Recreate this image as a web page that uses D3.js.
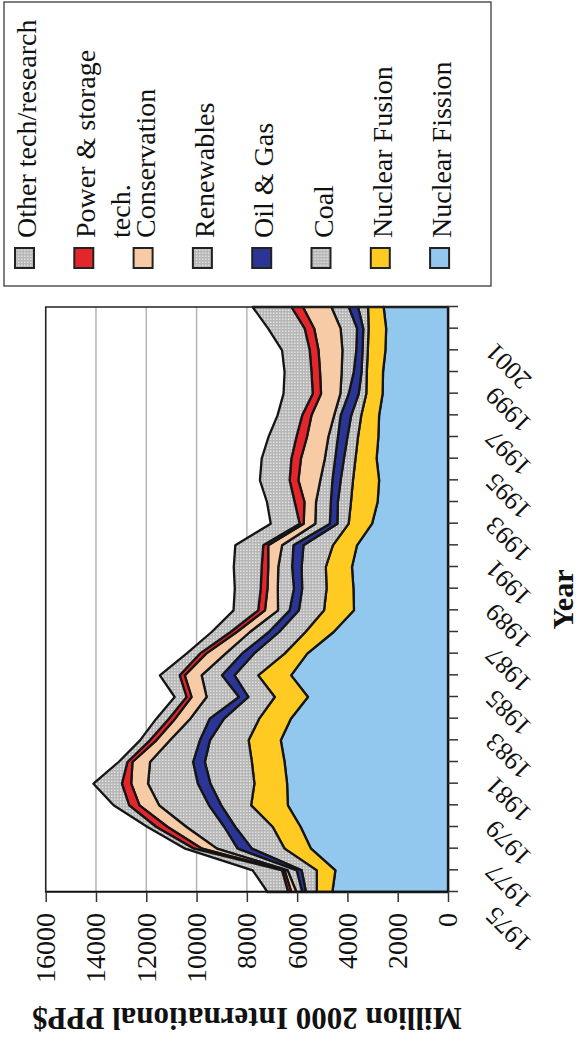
<!DOCTYPE html>
<html><head><meta charset="utf-8">
<script src="https://cdn.jsdelivr.net/npm/d3@7"></script>
<style>html,body{margin:0;padding:0;background:#fff;} svg{display:block;}</style>
</head><body>
<svg id="chart" width="582" height="1037"></svg>
<script>
// ---- data (million 2000 international PPP$) ----
const years = [1975,1976,1977,1978,1979,1980,1981,1982,1983,1984,1985,1986,1987,1988,
               1989,1990,1991,1992,1993,1994,1995,1996,1997,1998,1999,2000,2001,2002];
const yearLabels = [1975,1977,1979,1981,1983,1985,1987,1989,1991,1993,1995,1997,1999,2001];
const valueTicks = [0,2000,4000,6000,8000,10000,12000,14000,16000];

const nuclearFission = [4600,4480,5450,5860,6370,6400,6500,6650,6250,5570,6240,5600,4550,3740,3760,3820,3620,3020,2800,2740,2840,2770,2740,2600,2585,2490,2460,2560];
const nuclearFusion  = [620,740,1050,1110,1460,1300,1300,1280,1260,1320,1310,900,1120,1190,1070,1040,960,930,1060,1040,840,810,710,650,645,700,700,620];
const coal           = [430,600,1300,1490,1190,1750,1870,1540,1400,1050,940,1220,1050,1000,970,960,1170,450,520,490,460,420,400,300,210,210,210,400];
const oilGas         = [150,200,570,440,490,500,470,400,570,380,500,480,410,370,330,380,400,300,280,330,350,380,420,400,310,250,250,370];
const renewables     = [230,360,820,1500,1980,1980,1710,1190,770,1280,810,650,750,460,640,550,450,580,590,480,410,380,260,330,480,550,650,690];
const conservation   = [200,120,590,750,780,670,700,540,600,600,670,770,520,520,410,400,550,460,460,870,950,850,900,770,860,950,1050,1130];
const powerStorage   = [130,100,320,450,410,370,200,260,250,200,200,250,250,270,270,260,200,160,390,350,380,420,370,330,340,350,380,460];
const otherTech      = [820,1170,350,350,620,1130,350,390,500,470,790,530,750,980,1030,1110,1110,1150,1100,1180,1180,1110,980,1160,1070,1100,1450,1540];

const seriesNames = ["Nuclear Fission","Nuclear Fusion","Coal","Oil & Gas","Renewables","Conservation","Power & storage tech.","Other tech/research"];
const seriesData  = [nuclearFission,nuclearFusion,coal,oilGas,renewables,conservation,powerStorage,otherTech];
const seriesFill  = ["#92C7EE","#FFCB22","url(#grayDots)","#2B3595","url(#grayDots)","#F8CBA7","#E3262B","url(#grayDots)"];

const FONT = "'Liberation Serif','Times New Roman',Times,serif";

// ---- build ----
const svg = d3.select("#chart");
const defs = svg.append("defs");
const pat = defs.append("pattern").attr("id","grayDots").attr("patternUnits","userSpaceOnUse")
  .attr("width",3).attr("height",3);
pat.append("rect").attr("width",3).attr("height",3).attr("fill","#b6b6b6");
pat.append("rect").attr("width",1.5).attr("height",1.5).attr("fill","#e2e2e2");

// whole chart is drawn in a landscape frame and turned -90 degrees
const g = svg.append("g").attr("transform","translate(0,1037) rotate(-90)");

const x = d3.scaleLinear().domain([1975,2002]).range([145,730]);
const y = d3.scaleLinear().domain([0,16000]).range([448,45.7]);

// gridlines
g.append("g").selectAll("line").data(valueTicks.filter(v=>v>0)).join("line")
  .attr("x1",x.range()[0]).attr("x2",x.range()[1])
  .attr("y1",d=>y(d)).attr("y2",d=>y(d))
  .attr("stroke","#b5b5b5").attr("stroke-width",1.5);

// stacked areas
const keys = seriesNames;
const rows = years.map((yr,i)=>{ const r={year:yr}; keys.forEach((k,j)=>r[k]=seriesData[j][i]); return r; });
const stacked = d3.stack().keys(keys)(rows);
const area = d3.area().x(d=>x(d.data.year)).y0(d=>y(d[0])).y1(d=>y(d[1]));
g.append("g").selectAll("path").data(stacked).join("path")
  .attr("d",area)
  .attr("fill",(d,i)=>seriesFill[i])
  .attr("stroke","#151515").attr("stroke-width",2.3).attr("stroke-linejoin","round");

// plot frame
g.append("rect").attr("x",x.range()[0]).attr("y",y.range()[1])
  .attr("width",x.range()[1]-x.range()[0]).attr("height",y.range()[0]-y.range()[1])
  .attr("fill","none").attr("stroke","#222").attr("stroke-width",1.5);

// value axis
const yAxis = g.append("g").attr("transform",`translate(${x.range()[0]},0)`)
  .call(d3.axisLeft(y).tickValues(valueTicks).tickSize(10).tickSizeOuter(0).tickPadding(11).tickFormat(d3.format("d")));
yAxis.select(".domain").attr("stroke","#111").attr("stroke-width",1.5);
yAxis.selectAll(".tick line").attr("stroke","#333").attr("stroke-width",1.5);
yAxis.selectAll("text").attr("font-family",FONT).attr("font-size",28).attr("fill","#111");

// year axis
const xAxis = g.append("g").attr("transform",`translate(0,${y.range()[0]})`)
  .call(d3.axisBottom(x).tickValues(years).tickSize(10).tickSizeOuter(0).tickFormat(""));
xAxis.select(".domain").attr("stroke","#111").attr("stroke-width",1.5);
xAxis.selectAll(".tick line").attr("stroke","#333").attr("stroke-width",1.5);
g.append("g").selectAll("text").data(yearLabels).join("text")
  .attr("transform",d=>`translate(${x(d)-13},496) rotate(-45)`)
  .attr("text-anchor","end")
  .attr("font-family",FONT).attr("font-size",26).attr("fill","#111").text(d=>d);

// axis titles
g.append("text").attr("transform","translate(29,247) rotate(-90)")
  .attr("text-anchor","middle").attr("font-family",FONT)
  .attr("font-weight","bold").attr("font-size",31).attr("fill","#111")
  .text("Million 2000 International PPP$");
g.append("text").attr("x",(x.range()[0]+x.range()[1])/2).attr("y",573)
  .attr("text-anchor","middle").attr("font-family",FONT)
  .attr("font-weight","bold").attr("font-size",30).attr("fill","#111").text("Year");

// legend
const lg = g.append("g");
lg.append("rect").attr("x",751).attr("y",4).attr("width",284).attr("height",487)
  .attr("fill","#fff").attr("stroke","#555").attr("stroke-width",1.5);
const legendOrder = [7,6,5,4,3,2,1,0];
const items = lg.selectAll("g.item").data(legendOrder).join("g").attr("class","item")
  .attr("transform",(d,i)=>`translate(0,${15+i*59.3})`);
items.append("rect").attr("x",769).attr("y",0).attr("width",20).attr("height",19)
  .attr("fill",d=>seriesFill[d]).attr("stroke","#222").attr("stroke-width",2);
items.each(function(d){
  const t = d3.select(this).append("text").attr("x",799).attr("y",21)
    .attr("font-family",FONT).attr("font-size",28).attr("fill","#111");
  if (seriesNames[d]==="Power & storage tech.") {
    t.append("tspan").attr("x",799).text("Power & storage");
    t.append("tspan").attr("x",799).attr("dy",35).text("tech.");
  } else t.text(seriesNames[d]);
});
</script>
</body></html>
